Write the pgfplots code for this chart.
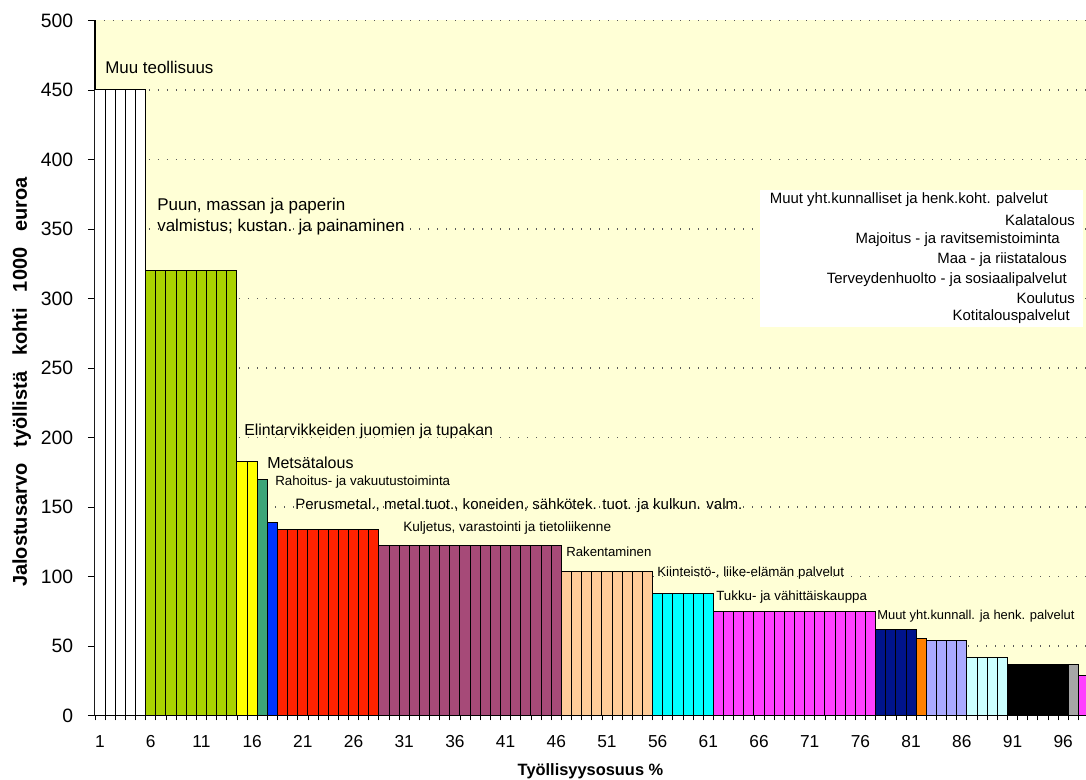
\documentclass[border=0pt]{standalone}
\usepackage{pgfplots}
\pgfplotsset{compat=1.18}
\usepackage{fontspec}
\setmainfont{Liberation Sans}
\usepackage{graphicx}
\definecolor{bgy}{RGB}{255,255,214}
\definecolor{cgreen}{RGB}{170,210,0}
\definecolor{cyel}{RGB}{255,255,0}
\definecolor{cteal}{RGB}{60,165,120}
\definecolor{cblue}{RGB}{0,51,255}
\definecolor{cred}{RGB}{255,34,0}
\definecolor{cpurp}{RGB}{166,74,120}
\definecolor{cpeach}{RGB}{255,204,153}
\definecolor{ccyan}{RGB}{0,255,255}
\definecolor{cmag}{RGB}{255,64,255}
\definecolor{cnavy}{RGB}{0,20,140}
\definecolor{corange}{RGB}{255,128,0}
\definecolor{clav}{RGB}{170,170,255}
\definecolor{clcyan}{RGB}{204,255,255}
\definecolor{cgray}{RGB}{166,166,166}
\newcommand{\fs}[1]{\fontsize{#1}{#1}\selectfont}
\begin{document}
\begin{tikzpicture}
\useasboundingbox (-71.25pt,-48.375pt) rectangle (743.25pt,536.625pt);
\begin{axis}[
  at={(0,0)}, anchor=south west, scale only axis,
  width=743.25pt, height=521.25pt,
  xmin=0.5, xmax=98.25, ymin=0, ymax=500,
  axis x line*=bottom, axis y line*=left,
  axis line style={black, line width=0.8pt},
  axis background/.style={fill=bgy},
  ybar, bar width=1, bar shift=0pt,
  ytick={0,50,...,500},
  xtick={1,6,...,96},
  minor xtick={0.5,1.5,...,97.5},
  tick align=outside,
  major tick length=5.25pt, minor tick length=3.75pt,
  tick style={black, line width=0.6pt},
  major x tick style={draw=none},
  ymajorgrids,
  major y grid style={gray!70!black, line width=1pt, dash pattern=on 1pt off 5.75pt},
  /pgf/number format/assume math mode=true,
  yticklabel style={font=\fs{14.5}, inner sep=0pt, xshift=-11pt},
  xticklabel style={font=\fs{13}, inner sep=0pt, yshift=-9.4pt},
  xlabel={Työllisyysosuus \%},
  xlabel style={at={(axis description cs:0.5,0)}, anchor=north, inner sep=0pt, yshift=-35.6pt, font=\fs{12.3}\bfseries},
  ylabel={\spaceskip=0.8em Jalostusarvo työllistä kohti 1000 euroa},
  ylabel style={at={(axis description cs:0,0.5)}, anchor=center, inner sep=0pt, yshift=55pt, xshift=-10.5pt, font=\fs{15}\bfseries},
  every axis plot/.append style={draw=black, line width=0.75pt},
]
\addplot[fill=white] coordinates {(1,450)(2,450)(3,450)(4,450)(5,450)};
\addplot[fill=cgreen] coordinates {(6,320)(7,320)(8,320)(9,320)(10,320)(11,320)(12,320)(13,320)(14,320)};
\addplot[fill=cyel] coordinates {(15,183)(16,183)};
\addplot[fill=cteal] coordinates {(17,170)};
\addplot[fill=cblue] coordinates {(18,138.5)};
\addplot[fill=cred] coordinates {(19,134)(20,134)(21,134)(22,134)(23,134)(24,134)(25,134)(26,134)(27,134)(28,134)};
\addplot[fill=cpurp] coordinates {(29,122)(30,122)(31,122)(32,122)(33,122)(34,122)(35,122)(36,122)(37,122)(38,122)(39,122)(40,122)(41,122)(42,122)(43,122)(44,122)(45,122)(46,122)};
\addplot[fill=cpeach] coordinates {(47,103.5)(48,103.5)(49,103.5)(50,103.5)(51,103.5)(52,103.5)(53,103.5)(54,103.5)(55,103.5)};
\addplot[fill=ccyan] coordinates {(56,87.5)(57,87.5)(58,87.5)(59,87.5)(60,87.5)(61,87.5)};
\addplot[fill=cmag] coordinates {(62,74.5)(63,74.5)(64,74.5)(65,74.5)(66,74.5)(67,74.5)(68,74.5)(69,74.5)(70,74.5)(71,74.5)(72,74.5)(73,74.5)(74,74.5)(75,74.5)(76,74.5)(77,74.5)};
\addplot[fill=cnavy] coordinates {(78,62)(79,62)(80,62)(81,62)};
\addplot[fill=corange] coordinates {(82,55.5)};
\addplot[fill=clav] coordinates {(83,54)(84,54)(85,54)(86,54)};
\addplot[fill=clcyan] coordinates {(87,42)(88,42)(89,42)(90,42)};
\addplot[fill=black] coordinates {(91,36.5)(92,36.5)(93,36.5)(94,36.5)(95,36.5)(96,36.5)};
\addplot[fill=cgray] coordinates {(97,36.5)};
\addplot[fill=cmag] coordinates {(98,28.5)};

\begin{scope}[every node/.style={inner sep=0pt, anchor=west}]
\node[font=\fs{12.7}] at (axis cs:1.486,466.5) {Muu teollisuus};
\node[font=\fs{12.75}] at (axis cs:6.616,366.5) {Puun, massan ja paperin};
\node[font=\fs{12.75}] at (axis cs:6.616,351.4) {valmistus; kustan. ja painaminen};
\node[font=\fs{11.9}] at (axis cs:15.197,204.7) {Elintarvikkeiden juomien ja tupakan};
\node[font=\fs{12}] at (axis cs:17.466,181.7) {Metsätalous};
\node[font=\fs{10}] at (axis cs:18.255,168.0) {Rahoitus- ja vakuutustoiminta};
\node[font=\fs{11.3}] at (axis cs:20.228,150.7) {Perusmetal., metal.tuot., koneiden, sähkötek. tuot. ja kulkun. valm.};
\node[font=\fs{10.2}] at (axis cs:30.88,134.9) {Kuljetus, varastointi ja tietoliikenne};
\node[font=\fs{9.9}] at (axis cs:46.96,117.6) {Rakentaminen};
\node[font=\fs{10}] at (axis cs:55.94,102.5) {Kiinteistö-, liike-elämän palvelut};
\node[font=\fs{10}] at (axis cs:61.76,85.3) {Tukku- ja vähittäiskauppa};
\node[font=\fs{9.7}] at (axis cs:77.64,71.6) {Muut yht.kunnall. ja henk. palvelut};
\end{scope}

\fill[white] (rel axis cs:0.671,0.559) rectangle (rel axis cs:0.997,0.756);
\begin{scope}[every node/.style={inner sep=0pt, anchor=east, font=\fs{11.2}}]
\node at (axis cs:94.5,370.9) {Muut yht.kunnalliset ja henk.koht. palvelut};
\node at (axis cs:97.17,356.5) {Kalatalous};
\node at (axis cs:95.69,342.1) {Majoitus - ja ravitsemistoiminta};
\node at (axis cs:96.38,327.7) {Maa - ja riistatalous};
\node at (axis cs:96.38,313.3) {Terveydenhuolto - ja sosiaalipalvelut};
\node at (axis cs:97.17,300.4) {Koulutus};
\node at (axis cs:96.67,286.7) {Kotitalouspalvelut};
\end{scope}
\end{axis}
\end{tikzpicture}
\end{document}
